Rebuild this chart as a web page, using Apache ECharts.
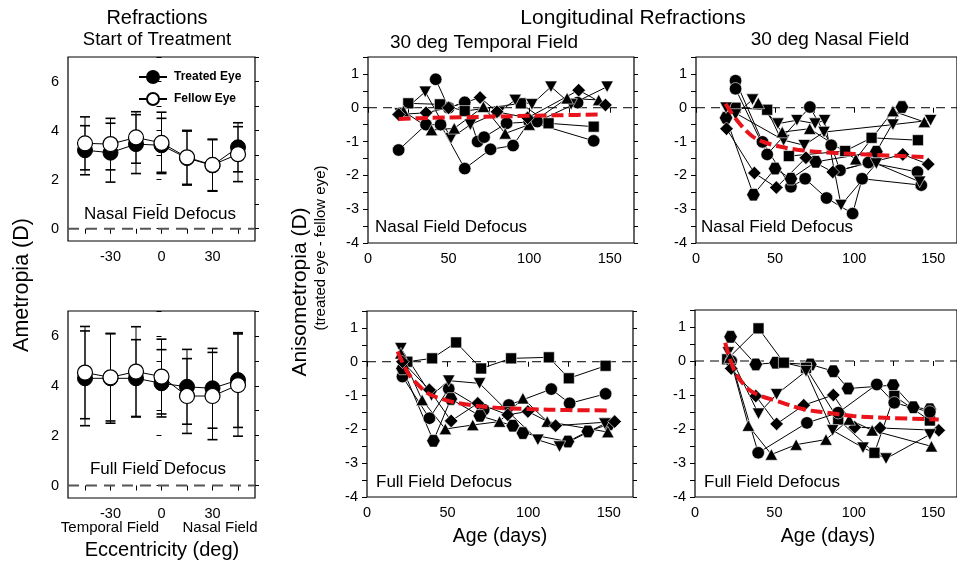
<!DOCTYPE html>
<html><head><meta charset="utf-8">
<script src="https://cdn.jsdelivr.net/npm/echarts@6/dist/echarts.min.js"></script>
<style>html,body{margin:0;padding:0;background:#fff}#c{width:957px;height:564px}</style>
</head><body><div id="c"></div>
<script>
// ---------- Left panels: refractions at start of treatment ----------
const eccentricity = [-45, -30, -15, 0, 15, 30, 45];
const eccTickLabels = [-30, 0, 30];
const nasalTreatedMean = [3.2, 3.1, 3.45, 3.4, 2.88, 2.58, 3.32];
const nasalTreatedSD   = [1.0, 1.2, 1.2, 1.1, 1.1, 1.05, 1.0];
const nasalFellowMean  = [3.48, 3.45, 3.72, 3.5, 2.91, 2.6, 3.04];
const nasalFellowSD    = [1.08, 1.05, 1.05, 1.25, 1.1, 1.05, 1.12];
const fullTreatedMean  = [4.3, 4.3, 4.3, 4.1, 3.96, 3.9, 4.23];
const fullTreatedSD    = [1.9, 1.8, 1.55, 1.35, 1.5, 1.6, 1.9];
const fullFellowMean   = [4.53, 4.34, 4.57, 4.37, 3.59, 3.59, 4.03];
const fullFellowSD     = [1.85, 1.75, 1.8, 1.5, 1.5, 1.75, 2.05];
const ametropiaTickLabels = [0, 2, 4, 6];

// ---------- Right panels: longitudinal anisometropia [age, D] ----------
// 30 deg temporal field, nasal field defocus
const tn_circ1 = [[19,-1.25],[36,-0.5],[45,-0.5],[60,-1.8],[76,-1.23],[90,-1.12],[100,-0.41],[140,-0.98]];
const tn_circ2 = [[42,0.84],[50,0.0],[60,0.16],[68,-1.0],[72,-0.87],[86,-0.46],[105,-0.41],[130,0.15]];
const tn_sq    = [[25,0.13],[44.6,0.1],[60,-0.1],[94.8,0.13],[112,-0.46],[140,-0.56]];
const tn_tdown = [[20,-0.17],[35.5,0.47],[51.5,-0.9],[63.5,-0.5],[81.5,-0.12],[91.3,0.23],[101.7,0.1],[113.5,0.62],[126,0.1],[148.3,0.62]];
const tn_tup   = [[22,-0.1],[39.4,-0.66],[53.5,-0.61],[71.6,0.03],[85.1,-0.76],[100,-0.5],[123.5,0.28],[143.1,0.23]];
const tn_dia   = [[19,-0.2],[36,-0.15],[50,0.0],[69.5,0.3],[80,-0.12],[99,-0.3],[130.7,0.52],[147.3,0.08]];
const tn_mean  = [[19,-0.33],[40,-0.3],[60,-0.28],[80,-0.26],[100,-0.24],[120,-0.22],[145,-0.2]];
// 30 deg nasal field, nasal field defocus
const nn_circ1 = [[25,0.8],[42,-1.01],[60,-2.34],[69,-2.1],[82.5,-2.67],[99,-3.13],[105,-2.1],[142.4,-2.29]];
const nn_circ2 = [[25,0.56],[45,-1.38],[72,0.02],[85.5,-1.11],[91,-1.85],[109,-1.62],[140,-1.9]];
const nn_circ3 = [[19,-0.3],[36.3,-2.57],[50,-1.8],[60,-2.1],[75.7,-1.6],[114,-1.3],[130.2,0.02]];
const nn_sq    = [[25,0.0],[45,-0.06],[58.7,-1.43],[94.3,-1.28],[111,-0.89],[140.3,-0.96]];
const nn_tdown1= [[25,-0.2],[35.7,0.24],[51.8,-0.47],[63.8,-0.37],[75.3,-0.47],[81.3,-0.37],[91.7,-2.88],[114,-1.65],[141.4,-2.19]];
const nn_tdown2= [[19,0.0],[55.4,-0.96],[68.4,-1.11],[80.9,-0.72],[124.5,-0.5],[148.3,-0.37]];
const nn_tup   = [[39.4,0.14],[54.5,-0.72],[71.9,-0.62],[101,-1.52],[124.5,-0.1],[144.3,-0.42]];
const nn_dia   = [[19.3,-0.62],[36.9,-1.93],[50.8,-2.36],[69.5,-1.48],[86.5,-1.9],[130.7,-1.38],[146.8,-1.67]];
const nn_mean  = [[18.7,0.12],[25,-0.32],[35,-0.82],[45,-1.05],[64,-1.24],[89,-1.34],[120,-1.41],[147,-1.46]];
// 30 deg temporal field, full field defocus
const tf_sq    = [[25,0.0],[40.4,0.1],[55.3,0.57],[70.8,-0.2],[89.4,0.1],[112.8,0.13],[125.2,-0.49],[148,-0.12]];
const tf_circ  = [[22,-0.44],[38.7,-1.67],[50.7,-0.8],[72.4,-1.42],[88,-1.28],[114.3,-0.81],[125.7,-1.23],[148,-0.95]];
const tf_hex   = [[22,-0.2],[41.2,-2.34],[52,-1.1],[70,-1.6],[90.4,-1.89],[96.7,-2.11],[124.6,-2.36],[137,-2.06],[150,-1.85]];
const tf_tdown = [[21,0.4],[40,-1.0],[50.7,-0.56],[69.8,-0.64],[88,-1.5],[106,-2.31],[119.4,-2.51],[147.5,-1.83]];
const tf_tup   = [[21,0.25],[34.2,-1.13],[48.6,-1.99],[65.6,-1.87],[82.2,-1.77],[96.7,-1.08],[111.8,-1.77],[149.4,-2.08]];
const tf_dia   = [[22,0.0],[38.7,-0.83],[52.2,-1.75],[68.7,-1.23],[87.3,-1.57],[99.8,-1.47],[117,-1.89],[153.6,-1.77]];
const tf_mean  = [[19,0.3],[25,-0.3],[30,-0.6],[37.6,-0.93],[45,-1.08],[57.3,-1.23],[78,-1.35],[100,-1.4],[125,-1.43],[150,-1.44]];
// 30 deg nasal field, full field defocus
const nf_hex   = [[22.4,0.71],[38.3,-0.1],[50.8,-0.05],[72.6,-0.1],[87.1,-0.3],[96.4,-0.81],[124.8,-0.71],[137.5,-1.36],[147.9,-1.42]];
const nf_sq    = [[20.3,0.05],[40,0.96],[56,-0.05],[69.9,-0.2],[90.2,-1.72],[113,-2.7],[125.5,-1.03],[147.9,-1.75]];
const nf_circ  = [[22.8,0.0],[39.8,-2.7],[70.5,-1.82],[90.2,-1.52],[114.5,-0.69],[125.5,-1.23],[147.9,-1.5]];
const nf_dia   = [[22.8,-0.22],[38.3,-1.03],[51.4,-1.85],[68.5,-1.3],[87.1,-1.0],[100.6,-1.95],[116.5,-1.97],[153.5,-2.04]];
const nf_tdown = [[21,0.25],[40,-1.55],[51.4,-0.98],[69.9,-0.3],[86.7,-2.04],[105.8,-2.55],[120.3,-2.87],[147.9,-2.16]];
const nf_tup   = [[22,0.1],[33.6,-1.9],[48.1,-2.75],[63.7,-2.46],[82.5,-2.31],[97.1,-1.72],[111.6,-2.04],[148.9,-2.51]];
const nf_mean  = [[19,0.54],[25,-0.3],[33.2,-0.81],[40,-1.0],[51.8,-1.18],[68.5,-1.42],[85,-1.53],[99.6,-1.62],[125,-1.68],[153.5,-1.72]];

const ageTickLabels = [0, 50, 100, 150];
const ageTicks = [0, 25, 50, 75, 100, 125, 150];
const anisoTickLabels = [-4, -3, -2, -1, 0, 1];
const anisoTicks = [-4, -3.5, -3, -2.5, -2, -1.5, -1, -0.5, 0, 0.5, 1, 1.5];
const refLevel = 0;

// ---------- build ----------
const F = '"Liberation Sans", Arial, Helvetica, sans-serif';
const grids = [
  {left: 68,  top: 57,  width: 187, height: 184},
  {left: 68,  top: 311, width: 187, height: 187},
  {left: 368, top: 57,  width: 266, height: 186},
  {left: 696, top: 57,  width: 266, height: 186},
  {left: 367, top: 311, width: 266, height: 186},
  {left: 695, top: 310, width: 266, height: 187}
].map(g => Object.assign({show: true, borderColor: '#000', borderWidth: 1.2, backgroundColor: 'transparent'}, g));

const leftX = {min: -55, max: 55, ticks: eccentricity, labels: eccTickLabels};
const leftY = {min: -0.5, max: 7, ticks: [0,1,2,3,4,5,6,7], labels: ametropiaTickLabels};
const rightX = {min: 0, max: 165, ticks: ageTicks, labels: ageTickLabels};
const rightY = {min: -4, max: 1.5, ticks: anisoTicks, labels: anisoTickLabels};
const panelCfg = [[leftX, leftY], [leftX, leftY], [rightX, rightY], [rightX, rightY], [rightX, rightY], [rightX, rightY]];

const tickStyle = {color: '#000', width: 1};
const labelStyle = {color: '#000', fontSize: 14.5, fontFamily: F};
const xAxes = [], yAxes = [];
panelCfg.forEach(([xc, yc], g) => {
  xAxes.push({type: 'value', gridIndex: g, min: xc.min, max: xc.max, position: 'bottom',
    axisLine: {show: false}, splitLine: {show: false},
    axisTick: {show: true, customValues: xc.ticks, length: 5, inside: false, lineStyle: tickStyle},
    axisLabel: Object.assign({customValues: xc.labels, margin: 8}, labelStyle)});
  yAxes.push({type: 'value', gridIndex: g, min: yc.min, max: yc.max, position: 'left',
    axisLine: {show: false}, splitLine: {show: false},
    axisTick: {show: true, customValues: yc.ticks, length: 5, lineStyle: tickStyle},
    axisLabel: Object.assign({customValues: yc.labels, margin: 9}, labelStyle)});
  yAxes.push({type: 'value', gridIndex: g, min: yc.min, max: yc.max, position: 'right',
    axisLine: {show: false}, splitLine: {show: false},
    axisTick: {show: true, customValues: yc.ticks, length: 4, lineStyle: tickStyle},
    axisLabel: {show: false}});
});

const series = [];
// zero reference lines
panelCfg.forEach(([xc], g) => {
  const left = g < 2;
  series.push({type: 'line', xAxisIndex: g, yAxisIndex: 2 * g, silent: true, symbol: 'none', z: 1,
    data: [[xc.min, refLevel], [xc.max, refLevel]],
    lineStyle: left ? {color: '#555', width: 2, type: [11, 7]} : {color: '#000', width: 1, type: [9, 6]}});
});

function errRender(params, api) {
  const x = api.value(0), lo = api.value(1), hi = api.value(2);
  const a = api.coord([x, lo]), b = api.coord([x, hi]);
  const w = 5;
  const st = {stroke: '#000', lineWidth: 1};
  return {type: 'group', children: [
    {type: 'line', shape: {x1: a[0], y1: a[1], x2: b[0], y2: b[1]}, style: st},
    {type: 'line', shape: {x1: a[0] - w, y1: a[1], x2: a[0] + w, y2: a[1]}, style: {stroke: '#000', lineWidth: 1.6}},
    {type: 'line', shape: {x1: b[0] - w, y1: b[1], x2: b[0] + w, y2: b[1]}, style: {stroke: '#000', lineWidth: 1.6}}
  ]};
}
function leftPanel(g, tMean, tSD, fMean, fSD) {
  const eb = (m, s) => eccentricity.map((x, i) => [x, m[i] - s[i], m[i] + s[i]]);
  series.push({type: 'custom', xAxisIndex: g, yAxisIndex: 2 * g, renderItem: errRender, z: 2,
    data: eb(tMean, tSD), encode: {x: 0, y: [1, 2]}, silent: true});
  series.push({type: 'custom', xAxisIndex: g, yAxisIndex: 2 * g, renderItem: errRender, z: 2,
    data: eb(fMean, fSD), encode: {x: 0, y: [1, 2]}, silent: true});
  series.push({type: 'line', name: 'Treated Eye', xAxisIndex: g, yAxisIndex: 2 * g, z: 3,
    data: eccentricity.map((x, i) => [x, tMean[i]]), symbol: 'circle', symbolSize: 15,
    lineStyle: {color: '#000', width: 1}, itemStyle: {color: '#000', borderColor: '#000', borderWidth: 1}});
  series.push({type: 'line', name: 'Fellow Eye', xAxisIndex: g, yAxisIndex: 2 * g, z: 4,
    data: eccentricity.map((x, i) => [x, fMean[i]]), symbol: 'circle', symbolSize: 15,
    lineStyle: {color: '#000', width: 1}, itemStyle: {color: '#fff', borderColor: '#000', borderWidth: 1.2}});
}
leftPanel(0, nasalTreatedMean, nasalTreatedSD, nasalFellowMean, nasalFellowSD);
leftPanel(1, fullTreatedMean, fullTreatedSD, fullFellowMean, fullFellowSD);

const HEX = 'path://M-5,-8.66L5,-8.66L10,0L5,8.66L-5,8.66L-10,0Z';
const SYM = {
  circle:  {symbol: 'circle', symbolSize: 12.5},
  hexagon: {symbol: HEX, symbolSize: [13.5, 12.5]},
  square:  {symbol: 'rect', symbolSize: 11},
  tup:     {symbol: 'triangle', symbolSize: [12.5, 11.5]},
  tdown:   {symbol: 'triangle', symbolSize: [12.5, 11.5], symbolRotate: 180},
  diamond: {symbol: 'diamond', symbolSize: [13.5, 13.5]}
};
function animal(g, data, kind) {
  series.push(Object.assign({type: 'line', xAxisIndex: g, yAxisIndex: 2 * g, data, z: 3,
    lineStyle: {color: '#000', width: 1},
    itemStyle: {color: '#000', borderColor: '#fff', borderWidth: 0.6}}, SYM[kind]));
}
function meanLine(g, data) {
  series.push({type: 'line', xAxisIndex: g, yAxisIndex: 2 * g, data, z: 6, symbol: 'none', smooth: 0.35,
    lineStyle: {color: '#e8131b', width: 4, type: [12, 5]}});
}
animal(2, tn_circ1, 'circle'); animal(2, tn_circ2, 'circle'); animal(2, tn_sq, 'square');
animal(2, tn_tdown, 'tdown'); animal(2, tn_tup, 'tup'); animal(2, tn_dia, 'diamond'); meanLine(2, tn_mean);

animal(3, nn_circ1, 'circle'); animal(3, nn_circ2, 'circle'); animal(3, nn_circ3, 'hexagon'); animal(3, nn_sq, 'square');
animal(3, nn_tdown1, 'tdown'); animal(3, nn_tdown2, 'tdown'); animal(3, nn_tup, 'tup'); animal(3, nn_dia, 'diamond'); meanLine(3, nn_mean);

animal(4, tf_sq, 'square'); animal(4, tf_circ, 'circle'); animal(4, tf_hex, 'hexagon');
animal(4, tf_tdown, 'tdown'); animal(4, tf_tup, 'tup'); animal(4, tf_dia, 'diamond'); meanLine(4, tf_mean);

animal(5, nf_hex, 'hexagon'); animal(5, nf_sq, 'square'); animal(5, nf_circ, 'circle');
animal(5, nf_dia, 'diamond'); animal(5, nf_tdown, 'tdown'); animal(5, nf_tup, 'tup'); meanLine(5, nf_mean);

function txt(text, x, y, size, opt) {
  return Object.assign({type: 'text', x, y, silent: true,
    style: {text, fill: '#000', font: size + 'px ' + F, align: 'center', verticalAlign: 'middle'}}, opt || {});
}
const graphic = [
  txt('Refractions', 157, 18, 20),
  txt('Start of Treatment', 157, 40, 18.5),
  txt('Longitudinal Refractions', 633, 18, 21),
  txt('30 deg Temporal Field', 484, 43, 19),
  txt('30 deg Nasal Field', 830, 40, 19),
  txt('Nasal Field Defocus', 160, 214, 17),
  txt('Full Field Defocus', 158, 469, 17),
  txt('Temporal Field', 110, 528, 15),
  txt('Nasal Field', 220, 528, 15),
  txt('Eccentricity (deg)', 162, 550, 20),
  txt('Age (days)', 500, 537, 19.5),
  txt('Age (days)', 828, 537, 19.5),
  txt('Ametropia (D)', 22, 285, 21.5, {rotation: Math.PI / 2}),
  txt('Anisometropia (D)', 300, 292, 21, {rotation: Math.PI / 2}),
  txt('(treated eye - fellow eye)', 321, 248, 15, {rotation: Math.PI / 2})
];
[['Nasal Field Defocus', 375, 227], ['Nasal Field Defocus', 701, 227],
 ['Full Field Defocus', 376, 482], ['Full Field Defocus', 704, 482]].forEach(([t, x, y]) => {
  const e = txt(t, x, y, 17); e.style.align = 'left'; graphic.push(e);
});

const chart = echarts.init(document.getElementById('c'), null, {renderer: 'canvas'});
chart.setOption({
  animation: false,
  backgroundColor: '#fff',
  textStyle: {fontFamily: F},
  grid: grids, xAxis: xAxes, yAxis: yAxes, series, graphic,
  legend: {data: ['Treated Eye', 'Fellow Eye'], left: 133, top: 65, orient: 'vertical', selectedMode: false,
    itemWidth: 28, itemHeight: 15, itemGap: 8,
    textStyle: {fontFamily: F, fontSize: 12, fontWeight: 'bold', color: '#000', padding: [0, 0, 0, 2]}}
});
</script></body></html>
